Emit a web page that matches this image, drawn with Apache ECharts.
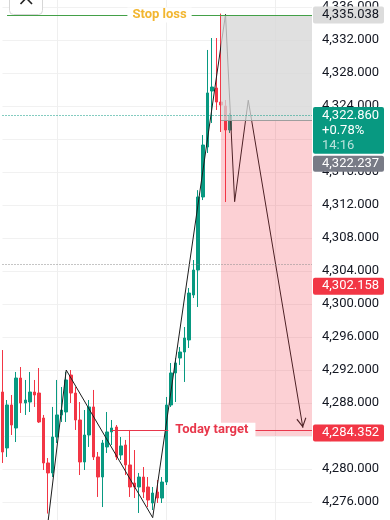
<!DOCTYPE html>
<html><head><meta charset="utf-8">
<script src="https://cdn.jsdelivr.net/npm/echarts@6/dist/echarts.min.js"></script>
<style>html,body{margin:0;padding:0;background:#fff}#c{width:390px;height:520px}</style>
</head><body><div id="c"></div>
<script>
// ---------- data ----------
const categories = Array.from({length: 69}, (_, i) => String(i)); // candle slots (last ones empty)
// [open, close, low, high]
const candles = [
 [4289.33,4282.06,4280.73,4294.42],
 [4282.55,4287.76,4281.46,4288.36],
 [4287.76,4285.33,4284.12,4288.97],
 [4284.97,4291.03,4283.27,4291.76],
 [4291.03,4288.00,4286.79,4292.36],
 [4288.00,4288.36,4286.55,4290.79],
 [4288.12,4289.33,4286.91,4291.76],
 [4289.33,4288.97,4287.52,4290.79],
 [4289.21,4285.70,4285.58,4292.24],
 [4286.18,4280.73,4279.88,4286.55],
 [4280.73,4279.52,4274.60,4281.33],
 [4279.52,4283.88,4279.03,4287.52],
 [4283.88,4286.55,4283.15,4290.79],
 [4286.55,4287.15,4285.70,4289.94],
 [4286.91,4290.79,4285.70,4291.76],
 [4291.39,4289.21,4288.00,4292.00],
 [4289.21,4285.94,4284.73,4289.94],
 [4285.94,4280.85,4279.27,4288.12],
 [4280.85,4284.12,4279.88,4287.15],
 [4284.12,4287.52,4282.67,4288.36],
 [4287.52,4281.46,4281.09,4289.58],
 [4281.46,4279.03,4276.61,4282.06],
 [4279.03,4283.15,4275.39,4283.52],
 [4282.67,4284.49,4281.94,4286.91],
 [4284.49,4284.97,4282.91,4285.94],
 [4285.09,4281.46,4281.09,4285.33],
 [4281.70,4282.79,4281.09,4283.88],
 [4282.91,4280.49,4279.27,4283.52],
 [4280.49,4277.82,4276.61,4284.73],
 [4278.30,4277.82,4276.48,4282.30],
 [4277.82,4279.03,4274.67,4279.52],
 [4279.03,4277.21,4276.48,4280.24],
 [4277.82,4276.24,4275.39,4279.03],
 [4275.88,4277.09,4275.03,4277.82],
 [4277.21,4276.48,4275.88,4278.67],
 [4276.48,4278.42,4275.88,4279.03],
 [4278.42,4287.76,4278.06,4288.73],
 [4287.76,4291.64,4287.52,4292.85],
 [4291.64,4292.85,4288.12,4293.45],
 [4293.45,4294.18,4292.61,4294.79],
 [4294.18,4295.88,4290.55,4297.21],
 [4295.64,4301.33,4294.67,4301.94],
 [4301.09,4304.12,4300.73,4305.33],
 [4304.12,4312.97,4299.64,4313.80],
 [4312.97,4319.27,4312.60,4320.48],
 [4319.03,4325.58,4318.30,4330.79],
 [4325.82,4326.30,4321.94,4332.24],
 [4326.18,4324.48,4323.52,4332.24],
 [4324.48,4324.12,4320.85,4335.20],
 [4324.00,4321.09,4312.36,4324.73],
 [4321.09,4322.86,4320.73,4323.15]
];
// hand-drawn projection path
const pathIdx = [10, 14, 33, 49, 51, 54];
const pathVal = [4273.6, 4292.0, 4274.1, 4335.1, 4312.4, 4324.7];
const arrowEnd = [66, 4285.0];

const stopLoss = 4335.038;
const entry = 4322.237;
const lastPrice = 4322.860;
const changeText = '+0.78%';
const countdown = '14:16';
const alertLevel = 4302.158;
const target = 4284.352;
const targetLine = 4284.7;
const zoneBottom = 4284.0;
const dottedLevel = 4304.8;
const zoneStart = 48;
const yMin = 4272, yMax = 4340, yStep = 4;

// ---------- chart ----------
function fmt(v) {
  const s = Number(v).toFixed(3).split('.');
  return s[0].replace(/\B(?=(\d{3})+(?!\d))/g, ',') + '.' + s[1];
}
const UP = '#089981', DOWN = '#f23645';
const SL_STYLE = {color: '#43a047', width: 1, type: 'solid'};
const EN_STYLE = {color: '#9e9e9e', width: 1, type: 'solid'};
const TG_STYLE = {color: '#e8374b', width: 1, type: 'solid'};
const SL_LABEL = {show: true, position: 'insideMiddle', formatter: 'Stop loss', color: '#f2b630',
                  fontWeight: 'bold', fontSize: 13, fontFamily: 'Roboto', backgroundColor: '#fff', padding: [1, 5]};
const TG_LABEL = {show: true, position: 'insideMiddle', formatter: 'Today target', color: '#e8374b',
                  fontWeight: 'bold', fontSize: 13, fontFamily: 'Roboto', backgroundColor: '#fff', padding: [1, 7]};
const chart = echarts.init(document.getElementById('c'), null, {renderer: 'canvas'});
const option = {
  animation: false,
  textStyle: {fontFamily: 'Roboto'},
  grid: {left: 2.5, right: 78, top: -26, bottom: -15, containLabel: false, outerBoundsMode: 'none'},
  xAxis: {
    type: 'category', data: categories, boundaryGap: false,
    axisLine: {show: false}, axisTick: {show: false}, axisLabel: {show: false},
    splitLine: {show: true, interval: (i) => i % 24 === 12, lineStyle: {color: '#efefef', width: 1}}
  },
  yAxis: {
    type: 'value', position: 'right', min: yMin, max: yMax, interval: yStep, scale: true,
    axisLine: {show: false}, axisTick: {show: false},
    axisLabel: {margin: 10, color: '#131722', fontSize: 13, fontFamily: 'Roboto', formatter: fmt},
    splitLine: {lineStyle: {color: '#f1f1f1', width: 1}}
  },
  series: [
    {
      type: 'candlestick', data: candles, z: 2, clip: false, barWidth: 3,
      itemStyle: {color: UP, color0: DOWN, borderColor: UP, borderColor0: DOWN, borderWidth: 1}
    },
    {
      type: 'line', z: 3, symbol: 'none', silent: true,
      data: pathIdx.map((x, i) => [x, pathVal[i]]),
      lineStyle: {color: '#1c1c1c', width: 1},
      markLine: {
        silent: true, z: 3, animation: false,
        symbol: ['none', 'path://M0,0 L-5,9 L-4.1,9.7 L0,2.2 L4.1,9.7 L5,9 Z M0,-9.7 L0.01,-9.7 L0,-9.7 Z'],
        symbolSize: [10, 19.4],
        label: {show: false},
        lineStyle: {color: '#1c1c1c', width: 1, type: 'solid'},
        data: [[{coord: [pathIdx[pathIdx.length - 1], pathVal[pathVal.length - 1]]}, {coord: arrowEnd}]]
      }
    },
    {
      type: 'line', data: [], z: 10, silent: true,
      markArea: {
        silent: true, z: 10,
        data: [
          [{xAxis: zoneStart, yAxis: stopLoss, itemStyle: {color: 'rgba(215,215,215,0.77)'}}, {yAxis: entry}],
          [{xAxis: zoneStart, yAxis: entry, itemStyle: {color: 'rgba(242,54,69,0.23)'}}, {yAxis: zoneBottom}]
        ]
      }
    },
    {
      type: 'line', data: [], z: 11, silent: true,
      markLine: {
        silent: true, z: 11, symbol: ['none', 'none'], animation: false,
        label: {show: false},
        data: [
          [{coord: [1, stopLoss], lineStyle: SL_STYLE, label: SL_LABEL},
           {coord: [68, stopLoss], lineStyle: SL_STYLE, label: SL_LABEL}],
          [{coord: [zoneStart, entry], lineStyle: EN_STYLE}, {coord: [68, entry], lineStyle: EN_STYLE}],
          [{coord: [24, targetLine], lineStyle: TG_STYLE, label: TG_LABEL},
           {coord: [68, targetLine], lineStyle: TG_STYLE, label: TG_LABEL}],
          {yAxis: lastPrice, lineStyle: {color: UP, width: 1, type: [1, 2]}},
          {yAxis: dottedLevel, lineStyle: {color: '#8a8a8a', width: 1, type: [1, 2]}}
        ]
      }
    }
  ]
};
chart.setOption(option);

// ---------- price badges on the scale ----------
const py = (v) => chart.convertToPixel({yAxisIndex: 0}, v);
const BX = 313, BW = 71, TX = BX + 9;
const FONT = '13px Roboto';
const els = [];
function badge(top, h, bg, lines) {
  els.push({type: 'rect', z: 100, shape: {x: BX, y: top, width: BW, height: h, r: 2}, style: {fill: bg}});
  lines.forEach((l) => els.push({type: 'text', z: 101,
    style: {text: l.text, x: TX, y: l.y, fill: l.color, font: FONT, align: 'left', verticalAlign: 'middle'}}));
}
const ySL = py(stopLoss);
badge(ySL - 8.5, 17, '#dcdcdc', [{text: fmt(stopLoss), y: ySL, color: '#131722'}]);
const yLP = py(lastPrice);
const gTop = yLP - 8.3, gH = 46.6;
badge(gTop, gH, UP, [
  {text: fmt(lastPrice), y: yLP, color: '#fff'},
  {text: changeText, y: yLP + 15, color: '#fff'},
  {text: countdown, y: yLP + 30, color: 'rgba(255,255,255,0.72)'}
]);
const eTop = gTop + gH + 2;
badge(eTop, 16, '#787b86', [{text: fmt(entry), y: eTop + 8, color: '#fff'}]);
const yAL = py(alertLevel);
badge(yAL - 8.5, 17, DOWN, [{text: fmt(alertLevel), y: yAL, color: '#fff'}]);
const yTG = py(target);
badge(yTG - 8.5, 17, DOWN, [{text: fmt(target), y: yTG, color: '#fff'}]);
// top-left close button (partially off screen)
els.push({type: 'rect', z: 100, shape: {x: 9.5, y: -6, width: 33, height: 20.5, r: 4},
          style: {fill: '#fff', stroke: '#d6d6d6', lineWidth: 1}});
els.push({type: 'line', z: 101, shape: {x1: 20.5, y1: -8, x2: 32, y2: 4}, style: {stroke: '#222', lineWidth: 1.6}});
els.push({type: 'line', z: 101, shape: {x1: 32, y1: -8, x2: 20.5, y2: 4}, style: {stroke: '#222', lineWidth: 1.6}});
chart.setOption({graphic: {elements: els}});
</script>
</body></html>
